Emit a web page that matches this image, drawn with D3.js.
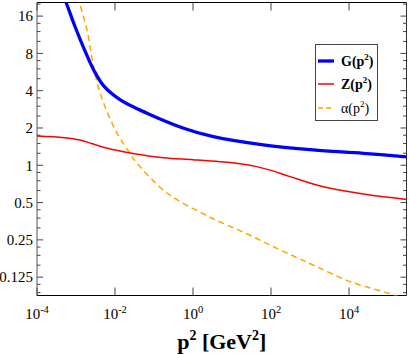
<!DOCTYPE html>
<html><head><meta charset="utf-8">
<script src="https://cdn.jsdelivr.net/npm/d3@7"></script>
<style>
html,body{margin:0;padding:0;background:#fff;}
svg{display:block;}
text{font-family:"Liberation Serif","Times New Roman",serif;fill:#000;}
</style></head>
<body>
<svg id="chart" width="409" height="354"></svg>
<script>
// ---- data ----
const pG = [4.5e-4, 5.62e-4, 9.42e-4, 1.70e-3, 2.84e-3, 5.13e-3, 0.01368, 0.066, 0.575, 3.31, 63, 1200, 23400, 3.0e5];
const G  = [24.6, 20.5, 13.19, 8.37, 5.88, 4.37, 3.37, 2.63, 1.99, 1.70, 1.46, 1.33, 1.25, 1.17];

const pZ = [1e-4, 5e-4, 1.26e-3, 2.5e-3, 5e-3, 0.01, 0.0316, 0.174, 1, 4.9, 15.8, 42.7, 100, 309, 2190, 23400, 3.0e5];
const Z  = [1.72, 1.67, 1.6, 1.5, 1.4, 1.33, 1.24, 1.15, 1.11, 1.07, 1.03, 0.975, 0.91, 0.81, 0.67, 0.586, 0.53];

const pA = [1.12e-3, 1.23e-3, 1.91e-3, 2.82e-3, 4.17e-3, 0.0102, 0.024, 0.0363, 0.174, 0.468, 3.31, 24, 115, 457, 1480, 10700, 1.38e5, 3.0e5];
const A  = [23, 20.5, 12.4, 6.25, 3.81, 1.93, 1.25, 1.04, 0.63, 0.51, 0.37, 0.28, 0.22, 0.18, 0.152, 0.115, 0.09, 0.082];

const xTicks = [1e-4, 1e-2, 1, 1e2, 1e4];
const xTickExp = ["-4", "-2", "0", "2", "4"];
const yTicks = [0.125, 0.25, 0.5, 1, 2, 4, 8, 16];
const yTickLabels = ["0.125", "0.25", "0.5", "1", "2", "4", "8", "16"];

const seriesNames = ["G", "Z", "α"];
const seriesColors = ["#0000ff", "#ff0000", "#ffa500"];

// ---- layout ----
const L = 37, R = 406.5, T = 2.5, B = 295.5;
const svg = d3.select("#chart");

const x = d3.scaleLog().domain([1e-4, Math.pow(10, 5.474)]).range([L, R]);
const y = d3.scaleLog().base(2).domain([0.0889, 20.6]).range([B, T]);

svg.append("defs").append("clipPath").attr("id", "clip")
  .append("rect").attr("x", L).attr("y", T).attr("width", R - L).attr("height", B - T);

// minor y ticks: 3 linear steps between successive powers of two
const yMinor = [];
[0.0625, ...yTicks].forEach(m => {
  for (let k = 1; k <= 3; k++) {
    const v = m + k * m / 4;
    if (v > y.domain()[0] && v < y.domain()[1]) yMinor.push(v);
  }
});

const tickColor = "#444";
const axes = svg.append("g");
yTicks.forEach(v => {
  axes.append("line").attr("x1", L).attr("x2", L + 6).attr("y1", y(v)).attr("y2", y(v)).attr("stroke", tickColor);
  axes.append("line").attr("x1", R).attr("x2", R - 6).attr("y1", y(v)).attr("y2", y(v)).attr("stroke", tickColor);
});
yMinor.forEach(v => {
  axes.append("line").attr("x1", L).attr("x2", L + 3.5).attr("y1", y(v)).attr("y2", y(v)).attr("stroke", tickColor);
  axes.append("line").attr("x1", R).attr("x2", R - 3.5).attr("y1", y(v)).attr("y2", y(v)).attr("stroke", tickColor);
});
xTicks.forEach(v => {
  axes.append("line").attr("x1", x(v)).attr("x2", x(v)).attr("y1", B).attr("y2", B - 8).attr("stroke", tickColor);
  axes.append("line").attr("x1", x(v)).attr("x2", x(v)).attr("y1", T).attr("y2", T + 8).attr("stroke", tickColor);
});

// frame
svg.append("line").attr("x1", L).attr("x2", R).attr("y1", T).attr("y2", T).attr("stroke", "#000");
svg.append("line").attr("x1", L).attr("x2", R).attr("y1", B).attr("y2", B).attr("stroke", "#000");
svg.append("line").attr("x1", L).attr("x2", L).attr("y1", T).attr("y2", B).attr("stroke", "#555");
svg.append("line").attr("x1", R).attr("x2", R).attr("y1", T).attr("y2", B).attr("stroke", "#333");

// y tick labels
yTicks.forEach((v, i) => {
  svg.append("text").attr("x", 33).attr("y", y(v)).attr("dy", "0.35em")
    .attr("text-anchor", "end").attr("font-size", 15).text(yTickLabels[i]);
});
// x tick labels 10^n
xTicks.forEach((v, i) => {
  const t = svg.append("text").attr("x", x(v)).attr("y", 318.5)
    .attr("text-anchor", "middle").attr("font-size", 15);
  t.append("tspan").text("10");
  t.append("tspan").attr("dy", -6).attr("font-size", 10.5).text(xTickExp[i]);
});

// axis title
const title = svg.append("text").attr("x", (L + R) / 2).attr("y", 349)
  .attr("text-anchor", "middle").attr("font-size", 22).attr("font-weight", "bold");
title.append("tspan").text("p");
title.append("tspan").attr("dy", -9).attr("font-size", 14).text("2");
title.append("tspan").attr("dy", 9).text(" [GeV");
title.append("tspan").attr("dy", -9).attr("font-size", 14).text("2");
title.append("tspan").attr("dy", 9).text("]");

// curves
const line = d3.line().x(d => x(d[0])).y(d => y(d[1])).curve(d3.curveCatmullRom.alpha(0.5));
const plot = svg.append("g").attr("clip-path", "url(#clip)");
plot.append("path").datum(pA.map((p, i) => [p, A[i]])).attr("d", line)
  .attr("fill", "none").attr("stroke", seriesColors[2]).attr("stroke-width", 1.5).attr("stroke-dasharray", "6,4");
plot.append("path").datum(pZ.map((p, i) => [p, Z[i]])).attr("d", line)
  .attr("fill", "none").attr("stroke", seriesColors[1]).attr("stroke-width", 1.5);
plot.append("path").datum(pG.map((p, i) => [p, G[i]])).attr("d", line)
  .attr("fill", "none").attr("stroke", seriesColors[0]).attr("stroke-width", 3.3);

// legend
const lg = svg.append("g");
lg.append("rect").attr("x", 315.5).attr("y", 44.5).attr("width", 62).attr("height", 76)
  .attr("fill", "#fff").attr("stroke", "#444").attr("stroke-width", 1);
const legY = [61, 84, 108];
const legW = [3.3, 1.5, 1.5];
const legDash = [null, null, "5,3"];
const legBold = [true, true, false];
seriesNames.forEach((n, i) => {
  const l = lg.append("line").attr("x1", 318).attr("x2", 334).attr("y1", legY[i]).attr("y2", legY[i])
    .attr("stroke", seriesColors[i]).attr("stroke-width", legW[i]);
  if (legDash[i]) l.attr("stroke-dasharray", legDash[i]);
  const t = lg.append("text").attr("x", 341).attr("y", legY[i] + 5).attr("font-size", 14)
    .attr("font-weight", legBold[i] ? "bold" : "normal");
  t.append("tspan").text(n + "(p");
  t.append("tspan").attr("dy", -6).attr("font-size", 9).text("2");
  t.append("tspan").attr("dy", 6).text(")");
});
</script>
</body></html>
